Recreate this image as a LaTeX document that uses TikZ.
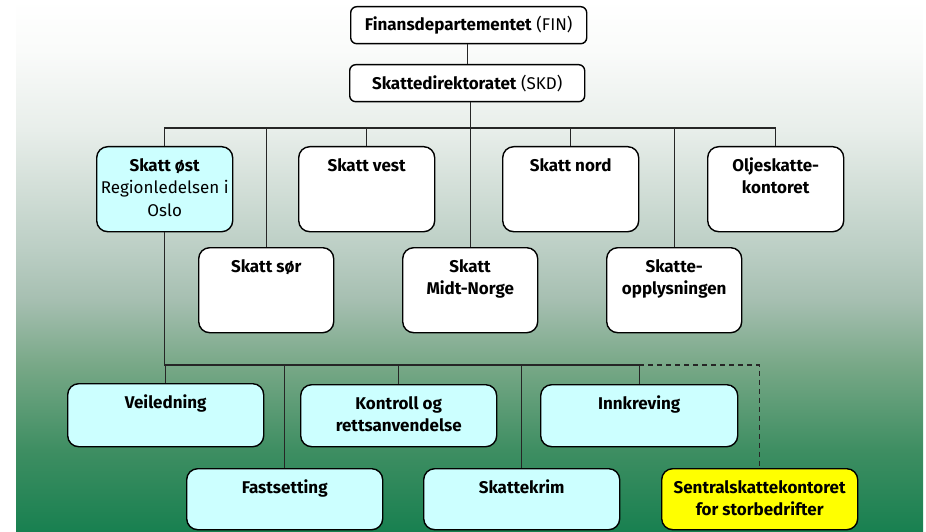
\documentclass[tikz,border=0pt]{standalone}
\usepackage{fontspec}
\setmainfont{Fira Sans}
\definecolor{cyanbox}{RGB}{204,255,255}
\definecolor{yelbox}{RGB}{255,255,0}
\definecolor{g0}{RGB}{24,128,80}
\definecolor{g1}{RGB}{62,142,98}
\definecolor{g2}{RGB}{120,168,135}
\definecolor{g3}{RGB}{166,191,177}
\definecolor{g4}{RGB}{187,206,196}
\definecolor{g5}{RGB}{232,238,234}
\definecolor{g6}{RGB}{250,251,250}
\pgfdeclareverticalshading{bgshade}{100bp}{color(0bp)=(g0); color(25bp)=(g0); color(32.7bp)=(g1); color(40.7bp)=(g2); color(46.8bp)=(g3); color(51.5bp)=(g4); color(62.8bp)=(g5); color(70.3bp)=(g6); color(75bp)=(white); color(100bp)=(white)}
\newcommand\bt[3]{\parbox[c][#2pt][t]{#1pt}{\centering\rule{0pt}{24.5pt}#3}}
\tikzset{
  box/.style={draw=black, line width=1.4pt, rounded corners=11pt, inner sep=0pt, anchor=north west},
  topbox/.style={draw=black, line width=1.4pt, rounded corners=6pt, inner sep=0pt, anchor=north west, fill=white},
  conn/.style={line width=1.4pt, draw=black!85},
  dconn/.style={line width=1.4pt, draw=black!85, dash pattern=on 5pt off 4pt},
}
\begin{document}
\begin{tikzpicture}[x=1pt, y=-1pt, font=\fontsize{17}{22.5}\selectfont]
\useasboundingbox (0,0) rectangle (926,532);
\shade[shading=bgshade] (16,0) rectangle (923,532);
% top
\node[topbox, minimum width=236pt, minimum height=37pt] (fin) at (350,6) {\textbf{Finansdepartementet} (FIN)};
\node[topbox, minimum width=235pt, minimum height=37pt] (skd) at (349,64) {\textbf{Skattedirektoratet} (SKD)};
% row 1
\node[box, fill=cyanbox] (ost) at (96,146) {\bt{136}{85}{\textbf{Skatt øst}\\Regionledelsen i\\Oslo}};
\node[box, fill=white] (vest) at (298,146) {\bt{136}{85}{\textbf{Skatt vest}}};
\node[box, fill=white] (nord) at (502,146) {\bt{136}{85}{\textbf{Skatt nord}}};
\node[box, fill=white] (olje) at (707,146) {\bt{136}{85}{\textbf{Oljeskatte-}\\\textbf{kontoret}}};
% row 2
\node[box, fill=white] (sor) at (198,247) {\bt{135}{85}{\textbf{Skatt sør}}};
\node[box, fill=white] (midt) at (402,247) {\bt{135}{85}{\textbf{Skatt}\\\textbf{Midt-Norge}}};
\node[box, fill=white] (opp) at (606,247) {\bt{135}{85}{\textbf{Skatte-}\\\textbf{opplysningen}}};
% row 3
\node[box, fill=cyanbox] (veil) at (67,383) {\bt{196}{63}{\textbf{Veiledning}}};
\node[box, fill=cyanbox] (kontr) at (300,384) {\bt{196}{62}{\textbf{Kontroll og}\\\textbf{rettsanvendelse}}};
\node[box, fill=cyanbox] (innk) at (540,384) {\bt{197}{62}{\textbf{Innkreving}}};
% row 4
\node[box, fill=cyanbox] (fast) at (186,468) {\bt{196}{61}{\textbf{Fastsetting}}};
\node[box, fill=cyanbox] (krim) at (423,468) {\bt{196}{61}{\textbf{Skattekrim}}};
\node[box, fill=yelbox] (sent) at (661,468) {\bt{196}{61}{\textbf{Sentralskattekontoret}\\\textbf{for storbedrifter}}};
% connectors
\coordinate (busA) at (0,128);
\coordinate (busB) at (0,365);
\draw[conn] (fin.south -| skd.south) -- (skd.north);
\draw[conn] (skd.south -| midt.north) -- (midt.north);
\draw[conn] (ost.north) |- (busA -| olje.north) -- (olje.north);
\draw[conn] (sor.north) -- (sor.north |- busA);
\draw[conn] (vest.north) -- (vest.north |- busA);
\draw[conn] (nord.north) -- (nord.north |- busA);
\draw[conn] (opp.north) -- (opp.north |- busA);
\draw[conn] (ost.south) |- (busB -| innk.north) -- (innk.north);
\draw[conn] (veil.north) -- (veil.north |- busB);
\draw[conn] (fast.north) -- (fast.north |- busB);
\draw[conn] (kontr.north) -- (kontr.north |- busB);
\draw[conn] (krim.north) -- (krim.north |- busB);
\draw[dconn] (busB -| innk.north) -| (sent.north);
\end{tikzpicture}
\end{document}
